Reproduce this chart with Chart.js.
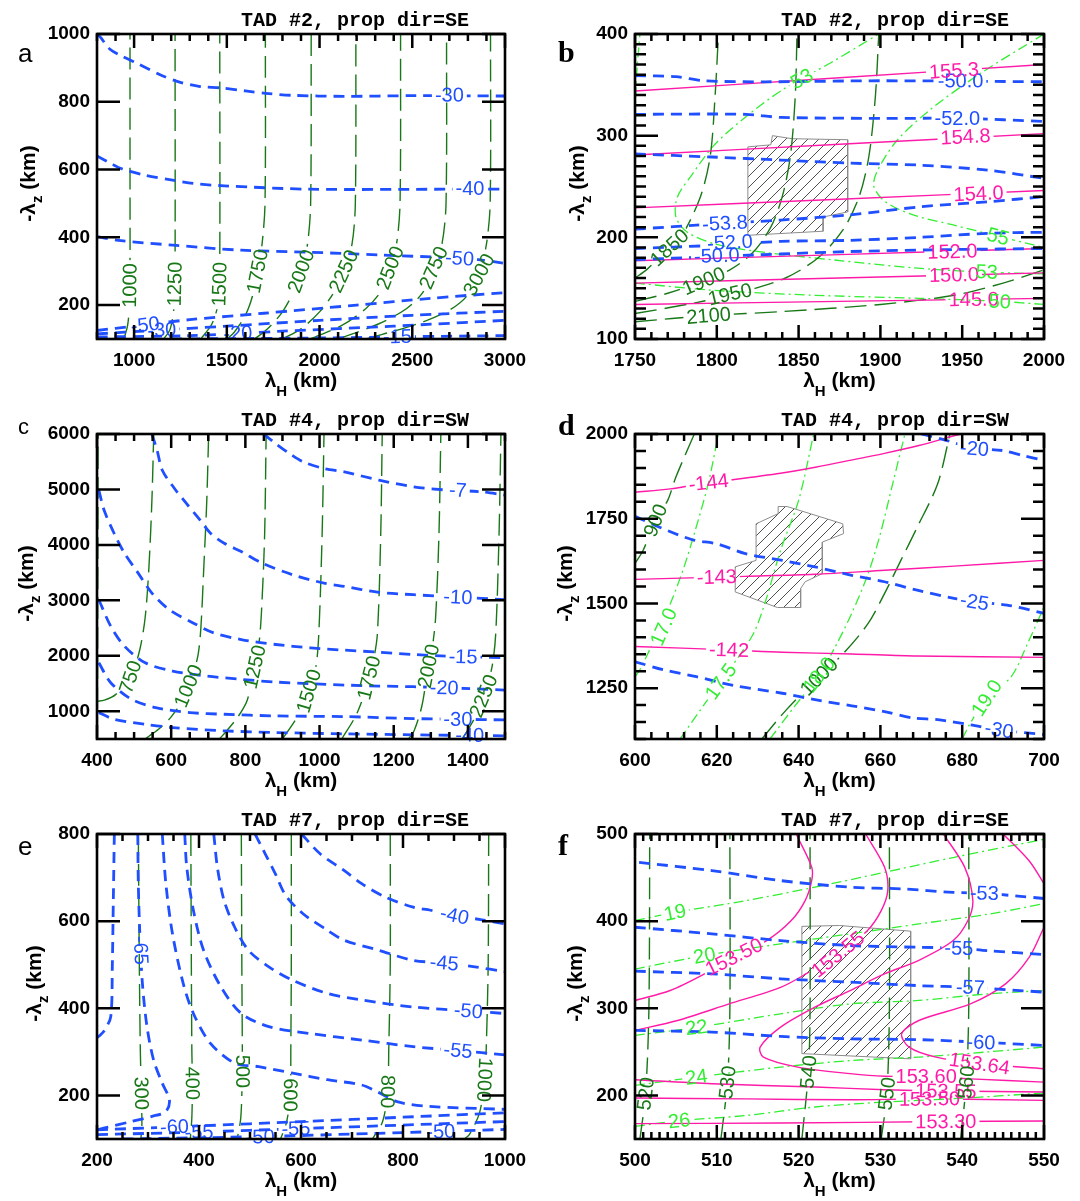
<!DOCTYPE html>
<html>
<head>
<meta charset="utf-8">
<script src="https://cdn.jsdelivr.net/npm/chart.js@4.4.0/dist/chart.umd.min.js"></script>
<style>
body { margin: 0; background: #fff; }
#wrap { position: relative; width: 1080px; height: 1201px; }
canvas { position: absolute; }
</style>
</head>
<body>
<div id="wrap">
  <canvas id="pa" width="540" height="400" style="left:0;top:0"></canvas>
  <canvas id="pb" width="540" height="400" style="left:540px;top:0"></canvas>
  <canvas id="pc" width="540" height="400" style="left:0;top:400px"></canvas>
  <canvas id="pd" width="540" height="400" style="left:540px;top:400px"></canvas>
  <canvas id="pe" width="540" height="400" style="left:0;top:800px"></canvas>
  <canvas id="pf" width="540" height="400" style="left:540px;top:800px"></canvas>
</div>
<script>
// ---- tick values ----
const aXTicks = [1000, 1500, 2000, 2500, 3000];
const aYTicks = [200, 400, 600, 800, 1000];
const bXTicks = [1750, 1800, 1850, 1900, 1950, 2000];
const bYTicks = [100, 200, 300, 400];
const cXTicks = [400, 600, 800, 1000, 1200, 1400];
const cYTicks = [1000, 2000, 3000, 4000, 5000, 6000];
const dXTicks = [600, 620, 640, 660, 680, 700];
const dYTicks = [1250, 1500, 1750, 2000];
const eXTicks = [200, 400, 600, 800, 1000];
const eYTicks = [200, 400, 600, 800];
const fXTicks = [500, 510, 520, 530, 540, 550];
const fYTicks = [200, 300, 400, 500];

// ---- panel a: TAD #2, SE ----
const aBlue = [
  {v:'-30', at:[[2700,820]], pts:[[800,1000],[819,990],[870,955],[930,936],[1022,912],[1152,877],[1245,858],[1356,845],[1467,841],[1600,832],[1727,824],[1856,819],[2134,816],[2500,818],[3000,817]]},
  {v:'-40', at:[[2811,543]], pts:[[800,640],[874,618],[930,603],[1059,583],[1208,569],[1319,559],[1486,552],[1949,542],[2690,542],[3000,542]]},
  {v:'-50', at:[[2755,338]], pts:[[800,402],[930,390],[1208,377],[1578,362],[1949,356],[2320,348],[2690,340],[2876,333],[3000,323]]},
  {v:'-50', at:[[1060,142]], pts:[[800,125],[1000,138],[1300,157],[1700,176],[2200,200],[2600,220],[3000,237]]},
  {v:'-30', at:[[1150,127]], pts:[[800,115],[1100,125],[1500,138],[2000,155],[2500,170],[3000,182]]},
  {v:'-20', at:[[1560,117]], pts:[[800,106],[1300,110],[1800,123],[2400,138],[3000,155]]},
  {v:'-15', at:[[2420,107]], pts:[[1200,100],[2000,103],[2500,107],[3000,110]]}
];
const aDk = [
  {v:'1000', at:[[977,258]], pts:[[945,100],[965,140],[975,200],[978,330],[978,600],[978,1000]]},
  {v:'1250', at:[[1219,262]], pts:[[1160,100],[1195,130],[1216,200],[1221,330],[1221,1000]]},
  {v:'1500', at:[[1460,262]], pts:[[1360,100],[1420,145],[1455,210],[1462,330],[1462,1000]]},
  {v:'1750', at:[[1665,300]], pts:[[1500,100],[1540,120],[1600,170],[1640,230],[1665,300],[1690,380],[1706,500],[1708,1000]]},
  {v:'2000', at:[[1900,300]], pts:[[1650,100],[1720,130],[1800,180],[1860,240],[1900,300],[1935,380],[1952,500],[1955,1000]]},
  {v:'2250', at:[[2130,300]], pts:[[1800,100],[1900,130],[2000,180],[2080,240],[2130,300],[2175,380],[2193,500],[2196,1000]]},
  {v:'2500', at:[[2380,310]], pts:[[1950,100],[2120,140],[2250,190],[2330,240],[2380,310],[2415,380],[2434,500],[2437,1000]]},
  {v:'2750', at:[[2615,310]], pts:[[2100,100],[2320,145],[2470,190],[2560,240],[2615,310],[2660,380],[2682,500],[2685,1000]]},
  {v:'3000', at:[[2860,290]], pts:[[2250,100],[2530,145],[2700,185],[2800,230],[2860,290],[2900,380],[2920,500],[2922,1000]]}
];

// ---- panel b: TAD #2, SE, zoom ----
const bBlue = [
  {v:'-50.0', at:[[1949,354]], pts:[[1750,359],[1775,358],[1792,354],[1830,353],[1900,354],[2000,353]]},
  {v:'-52.0', at:[[1947,317]], pts:[[1750,321],[1818,321],[1839,318],[1902,317],[1950,317],[2000,314]]},
  {v:'', pts:[[1750,282],[1797,279],[1839,276],[1881,273],[1924,271],[1966,266],[2000,258]]},
  {v:'-53.8', at:[[1805,214]], pts:[[1750,208],[1797,213],[1839,217],[1881,222],[1924,230],[1966,235],[2000,240]]},
  {v:'-52.0', at:[[1808,195]], pts:[[1750,189],[1797,192],[1839,196],[1881,197],[1924,200],[1966,204],[2000,205]]},
  {v:'-50.0', at:[[1800,182]], pts:[[1750,178],[1797,181],[1881,186],[1945,188],[2000,189]]}
];
const bMag = [
  {v:'155.3', at:[[1945,364]], pts:[[1750,344],[1875,357],[2000,370]]},
  {v:'154.8', at:[[1952,299]], pts:[[1750,281],[1875,291.5],[2000,302]]},
  {v:'154.0', at:[[1960,243]], pts:[[1750,229],[1875,237.5],[2000,246]]},
  {v:'152.0', at:[[1944,186]], pts:[[1750,177],[1875,183],[2000,189]]},
  {v:'150.0', at:[[1945,163]], pts:[[1750,155],[1875,160],[2000,165]]},
  {v:'145.0', at:[[1957,139]], pts:[[1750,134],[1875,137],[2000,140]]}
];
const bDk = [
  {v:'1850', at:[[1771,190]], pts:[[1750,160],[1757,168],[1768,185],[1778,200],[1790,240],[1796,280],[1799,340],[1801,400]]},
  {v:'1900', at:[[1792,157]], pts:[[1750,137],[1770,145],[1790,156],[1808,168],[1822,185],[1833,210],[1840,240],[1845,280],[1848,340],[1849,400]]},
  {v:'1950', at:[[1808,144]], pts:[[1750,125],[1785,135],[1815,146],[1842,160],[1862,180],[1877,207],[1887,240],[1893,280],[1897,340],[1899,400]]},
  {v:'2100', at:[[1795,123]], pts:[[1750,117],[1795,123],[1840,127],[1900,134],[1945,143],[1975,155],[2000,168]]}
];
const bLt = [
  {v:'53', at:[[1852,356],[1965,166]], pts:[[2000,164],[1960,166],[1920,170],[1870,178],[1830,185],[1800,193],[1782,205],[1775,220],[1776,240],[1785,262],[1798,290],[1815,315],[1840,345],[1870,372],[1899,400]]},
  {v:'55', at:[[1972,201]], pts:[[2000,400],[1960,360],[1930,325],[1910,295],[1898,265],[1896,250],[1903,235],[1920,222],[1945,212],[1972,201],[2000,190]]},
  {v:'50', at:[[1973,137]], pts:[[1750,155],[1797,148],[1860,143],[1924,140],[1973,137],[2000,134]]},
  {v:'', pts:[[1750,318],[1751,360],[1753,400]]}
];
const bHatch = [[1819,289],[1833,291],[1834,300],[1846,297],[1880,296],[1880,225],[1865,220],[1865,206],[1819,202],[1819,289]];

// ---- panel c: TAD #4, SW ----
const cBlue = [
  {v:'-7', at:[[1373,4988]], pts:[[849,6000],[882,5826],[919,5647],[956,5497],[1012,5377],[1067,5317],[1160,5168],[1253,5048],[1345,4988],[1438,4958],[1500,4898]]},
  {v:'-10', at:[[1373,3060]], pts:[[548,6000],[562,5707],[576,5347],[609,5018],[641,4748],[678,4449],[706,4210],[743,4030],[789,3880],[845,3671],[928,3461],[1012,3311],[1067,3252],[1160,3144],[1253,3102],[1373,3060],[1500,3012]]},
  {v:'-15', at:[[1387,1985]], pts:[[405,4988],[419,4629],[446,4210],[474,3850],[511,3491],[548,3132],[595,2832],[659,2593],[715,2413],[789,2293],[882,2204],[975,2144],[1067,2102],[1160,2066],[1253,2024],[1345,1994],[1500,1964]]},
  {v:'-20', at:[[1336,1425]], pts:[[405,3012],[437,2533],[474,2174],[530,1874],[604,1725],[697,1635],[789,1575],[882,1527],[975,1497],[1067,1473],[1160,1455],[1253,1443],[1336,1425],[1500,1383]]},
  {v:'-30', at:[[1373,856]], pts:[[405,1874],[437,1515],[493,1216],[558,1066],[650,976],[743,946],[882,916],[1067,904],[1253,868],[1373,856],[1500,844]]},
  {v:'-40', at:[[1405,570]], pts:[[405,976],[446,856],[530,766],[604,706],[743,647],[882,617],[1067,593],[1253,575],[1500,557]]}
];
const cDk = [
  {v:'', pts:[[401,500],[402,3000],[403,6000]]},
  {v:'750', at:[[490,1620]], pts:[[400,1180],[420,1200],[450,1300],[490,1600],[515,2100],[530,2700],[540,3600],[548,4800],[553,6000]]},
  {v:'1000', at:[[646,1455]], pts:[[530,500],[540,550],[570,700],[600,900],[630,1200],[655,1600],[672,2000],[680,2500],[688,3600],[696,4800],[701,6000]]},
  {v:'1250', at:[[825,1800]], pts:[[730,500],[750,650],[780,900],[805,1200],[825,1800],[838,2300],[845,3000],[852,4200],[856,6000]]},
  {v:'1500', at:[[971,1365]], pts:[[900,500],[940,900],[970,1350],[990,1800],[998,2400],[1007,4200],[1012,6000]]},
  {v:'1750', at:[[1133,1605]], pts:[[1060,500],[1100,950],[1130,1500],[1145,1900],[1156,2400],[1165,4200],[1169,6000]]},
  {v:'2000', at:[[1294,1814]], pts:[[1240,500],[1255,650],[1276,1100],[1292,1750],[1304,2150],[1313,2700],[1322,4200],[1327,6000]]},
  {v:'2250', at:[[1442,1275]], pts:[[1385,500],[1420,900],[1445,1300],[1465,1800],[1475,2400],[1484,4200],[1489,6000]]}
];

// ---- panel d: TAD #4, SW, zoom ----
const dBlue = [
  {v:'-20', at:[[683,1957]], pts:[[670,2000],[675,1985],[683,1958],[690,1951],[695,1936],[700,1922]]},
  {v:'-25', at:[[683,1505]], pts:[[600,1757],[606,1725],[614,1688],[620,1676],[627,1647],[636,1627],[644,1608],[653,1583],[661,1564],[669,1539],[678,1515],[683,1505],[691,1495],[700,1471]]},
  {v:'-30', at:[[689,1127]], pts:[[600,1328],[607,1304],[615,1284],[624,1258],[636,1235],[644,1216],[653,1198],[661,1181],[668,1162],[674,1157],[682,1142],[689,1127],[700,1113]]}
];
const dMag = [
  {v:'-144', at:[[618,1857]], pts:[[600,1828],[608.6,1838],[617.9,1857],[623.8,1865],[635.6,1884],[644.1,1902],[652.5,1922],[661,1943],[669.4,1966],[678.7,1997],[680,2000]]},
  {v:'-143', at:[[620,1578]], pts:[[600,1571],[627,1580],[644,1586],[661,1598],[678,1610],[700,1627]]},
  {v:'-142', at:[[623,1363]], pts:[[600,1373],[623,1363],[636,1356],[653,1351],[669,1345],[700,1341]]}
];
const dDk = [
  {v:'900', at:[[605,1745]], pts:[[600,1618],[602,1657],[605,1745],[608,1804],[610,1873],[614.5,2000]]},
  {v:'1000', at:[[645,1284]], pts:[[631,1100],[637,1186],[645,1284],[651,1353],[657,1441],[661,1529],[665,1627],[669,1725],[674,1853],[677,2000]]}
];
const dLt = [
  {v:'17.0', at:[[607,1431]], pts:[[600,1285],[601,1300],[605,1400],[609,1510],[612,1608],[614.5,1706],[617.9,1853],[620.4,2000]]},
  {v:'17.5', at:[[621,1270]], pts:[[611,1100],[618,1220],[624,1320],[629,1412],[632,1510],[635.6,1657],[640,1804],[643.7,2000]]},
  {v:'18.0', at:[[645,1289]], pts:[[633,1100],[639,1196],[645,1289],[649,1373],[653,1471],[657,1588],[660,1706],[663,1853],[666,2000]]},
  {v:'19.0', at:[[686,1221]], pts:[[680,1100],[682,1147],[686,1221],[692,1284],[696,1382],[700,1490]]}
];
const dHatch = [[635,1786],[637.2,1786],[650.8,1735],[651,1706],[645.8,1681],[645.8,1588],[641.6,1564],[640.5,1544],[640.5,1488],[634.8,1488],[624.5,1534],[624.5,1608],[629.6,1627],[629.6,1735],[635,1765],[635,1786]];

// ---- panel e: TAD #7, SE ----
const eBlue = [
  {v:'-40', at:[[901,613]], pts:[[601,800],[638,754],[685,716],[719,686],[766,655],[820,632],[854,625],[901,613],[955,603],[1000,594]]},
  {v:'-45', at:[[881,504]], pts:[[510,800],[530,754],[550,708],[570,659],[604,617],[652,579],[685,556],[753,533],[820,510],[881,504],[941,495],[1000,484]]},
  {v:'-50', at:[[928,394]], pts:[[429,800],[436,724],[449,648],[470,586],[497,533],[537,495],[584,464],[652,434],[719,419],[820,403],[928,394],[1000,388]]},
  {v:'-55', at:[[908,303]], pts:[[372,800],[376,724],[389,625],[409,533],[443,449],[483,388],[537,358],[618,342],[719,327],[820,312],[908,303],[1000,293]]},
  {v:'', pts:[[328,800],[335,686],[348,571],[369,457],[389,388],[422,320],[470,274],[517,266],[584,251],[652,236],[719,224],[752,207],[790,185],[850,175],[1000,168]]},
  {v:'-65', at:[[286,533]], pts:[[280,800],[281,686],[284,571],[289,457],[298,358],[311,281],[328,228],[342,190],[335,163],[308,152],[267,140],[213,125],[200,121]]},
  {v:'', pts:[[234,800],[232,648],[230,495],[227,381],[215,350],[205,337],[200,333]]},
  {v:'-60', at:[[352,128]], pts:[[200,121],[400,130],[600,140],[800,150],[1000,160]]},
  {v:'-55', at:[[400,116],[590,124]], pts:[[200,110],[400,116],[600,124],[800,132],[1000,140]]},
  {v:'-50', at:[[520,105],[874,117]], pts:[[250,100],[500,105],[750,113],[1000,122]]}
];
const eDk = [
  {v:'300', at:[[287,205]], pts:[[281,800],[283,500],[285,300],[287,205],[288,130],[286,100]]},
  {v:'400', at:[[387,228]], pts:[[384,800],[385,500],[386,300],[387,228],[386,150],[383,100]]},
  {v:'500', at:[[485,255]], pts:[[483,800],[484,500],[485,300],[485,255],[482,150],[475,100]]},
  {v:'600', at:[[579,201]], pts:[[581,800],[581,500],[580,300],[579,201],[572,140],[560,100]]},
  {v:'800', at:[[770,209]], pts:[[775,800],[775,500],[772,300],[770,209],[760,140],[740,100]]},
  {v:'1000', at:[[960,236]], pts:[[968,800],[967,500],[963,300],[960,236],[950,160],[930,110],[920,100]]}
];

// ---- panel f: TAD #7, SE, zoom ----
const fBlue = [
  {v:'-53', at:[[542.7,432]], pts:[[500.5,467.5],[509.4,458],[517.8,446.5],[526.3,439],[532.6,437],[538.9,433],[542.7,432],[546.5,429],[550,426]]},
  {v:'-55', at:[[539.6,369]], pts:[[500,393],[509.4,385.4],[517.8,377.7],[526.3,372],[534.7,370],[539.6,369],[543.2,366],[550,361.7]]},
  {v:'-57', at:[[541,324]], pts:[[500,342.6],[509.4,339.5],[517.8,333.8],[526.3,330],[534.7,326],[541,324],[550,318.5]]},
  {v:'-60', at:[[542.3,261]], pts:[[500,274.6],[509.4,272.7],[517.8,267.7],[526.3,265],[534.7,264],[542.3,261],[550,257.4]]}
];
const fMag = [
  {v:'153.50', at:[[512.1,359]], pts:[[519.7,500],[521.6,462],[521.6,446.5],[520.8,423.6],[519.1,400.7],[516.1,377.7],[512.1,359],[508.5,339.5],[504.3,320.4],[500,309]]},
  {v:'153.55', at:[[524.8,362]], pts:[[528.2,500],[530.5,462],[530.9,435],[530.1,412],[528.4,389],[524.8,362],[521,340],[517.8,324],[511.5,305],[505.2,286],[500,274.6]]},
  {v:'153.60', at:[[535.6,222]], pts:[[537.7,500],[540.3,462],[541.3,423.6],[540.7,400.7],[538.9,377.7],[534.7,355],[530.5,339.5],[526.3,320.4],[522,301.3],[517.8,278.4],[515.3,255.5],[515.7,244],[519.9,232.5],[526.3,225],[530.5,222],[535.6,222],[541,219],[550,215.3]]},
  {v:'', pts:[[545,500],[548.2,469],[550,443]]},
  {v:'153.64', at:[[542.1,236.4]], pts:[[550,393],[548.2,358.6],[545.3,328],[541,305],[534.7,286],[532.6,270.7],[533.5,255.5],[536.8,244],[542.1,236.4],[550,230.6]]},
  {v:'153.55', at:[[538,205]], pts:[[500,218],[509.4,213.4],[522,209.6],[530.5,206.6],[538,205],[550,204]]},
  {v:'153.50', at:[[536,196]], pts:[[500,197],[513.6,196],[526.3,195],[536,196],[550,194.3]]},
  {v:'153.30', at:[[538,170]], pts:[[500,167.6],[517.8,168.3],[538,170],[550,170.6]]}
];
const fDk = [
  {v:'520', at:[[501.3,202]], pts:[[500.6,150],[501.3,202],[501.7,300],[501.8,500]]},
  {v:'530', at:[[511.3,215]], pts:[[510.5,150],[511.3,215],[511.6,300],[511.6,500]]},
  {v:'540', at:[[521.2,227]], pts:[[520.4,150],[521.2,227],[521.4,300],[521.4,500]]},
  {v:'550', at:[[530.8,202]], pts:[[530.1,150],[530.8,202],[531.1,300],[531.1,500]]},
  {v:'560', at:[[540.5,215]], pts:[[539.8,150],[540.5,215],[540.8,300],[540.8,500]]}
];
const fLt = [
  {v:'19', at:[[504.9,410]], pts:[[500,400.7],[504.9,410],[513.6,423.6],[522,439],[530.5,456],[538.9,473],[550,494]]},
  {v:'20', at:[[508.5,360.5]], pts:[[500,345],[508.5,360.5],[517.8,374],[526.3,385.4],[534.7,396.8],[543.2,408],[550,420]]},
  {v:'22', at:[[507.5,278]], pts:[[500,269],[507.5,278],[517.8,293.7],[526.3,305],[534.7,309],[543.2,316.6],[550,320.4]]},
  {v:'24', at:[[507.5,221]], pts:[[500,211.5],[507.5,221],[517.8,232.5],[526.3,240],[534.7,244],[543.2,250],[550,255.5]]},
  {v:'26', at:[[505.4,171]], pts:[[500,164.5],[505.4,171],[513.6,177],[522,186.7],[530.5,192.4],[538.9,196.2],[550,202.7]]}
];
const fHatch = [[520.4,394],[525,395],[533.7,388.5],[533.7,242],[520.4,248],[520.4,394]];

// ---- styles ----
const FONT = '"Liberation Sans", Arial, sans-serif';
const TAG = 20;
const STY = {
  blue: {color: '#1f4fff', width: 2.8, dash: [11, 7]},
  mag:  {color: '#ff1aa8', width: 1.4, dash: []},
  dk:   {color: '#187818', width: 1.4, dash: [22, 8]},
  lt:   {color: '#33ee33', width: 1.3, dash: [10, 4, 2, 4]}
};

const panels = [
  {el:'pa', letter:'a', serif:false, lsize:26, ly:62, title:'TAD #2, prop dir=SE', xr:[800,3000], yr:[100,1000], xt:aXTicks, yt:aYTicks, xm:100, ym:0, left:97, right:505, ytx:27, groups:[[aBlue,'blue'],[aDk,'dk']]},
  {el:'pb', letter:'b', serif:true, lsize:30, ly:62, title:'TAD #2, prop dir=SE', xr:[1750,2000], yr:[100,400], xt:bXTicks, yt:bYTicks, xm:10, ym:10, left:95, right:504, ytx:36, groups:[[bBlue,'blue'],[bMag,'mag'],[bDk,'dk'],[bLt,'lt']], hatch:bHatch},
  {el:'pc', letter:'c', serif:false, lsize:22, ly:34, title:'TAD #4, prop dir=SW', xr:[400,1500], yr:[500,6000], xt:cXTicks, yt:cYTicks, xm:50, ym:0, left:97, right:505, ytx:25, groups:[[cBlue,'blue'],[cDk,'dk']]},
  {el:'pd', letter:'d', serif:true, lsize:30, ly:35, title:'TAD #4, prop dir=SW', xr:[600,700], yr:[1100,2000], xt:dXTicks, yt:dYTicks, xm:4, ym:50, left:95, right:504, ytx:24, groups:[[dBlue,'blue'],[dMag,'mag'],[dDk,'dk'],[dLt,'lt']], hatch:dHatch},
  {el:'pe', letter:'e', serif:false, lsize:26, ly:55, title:'TAD #7, prop dir=SE', xr:[200,1000], yr:[100,800], xt:eXTicks, yt:eYTicks, xm:50, ym:0, left:97, right:505, ytx:33, groups:[[eBlue,'blue'],[eDk,'dk']]},
  {el:'pf', letter:'f', serif:true, lsize:30, ly:55, title:'TAD #7, prop dir=SE', xr:[500,550], yr:[150,500], xt:fXTicks, yt:fYTicks, xm:1, ym:0, left:95, right:504, ytx:34, groups:[[fBlue,'blue'],[fMag,'mag'],[fDk,'dk'],[fLt,'lt']], hatch:fHatch}
];

function toSets(lines, kind) {
  const st = STY[kind];
  return lines.map(l => ({
    data: l.pts.map(p => ({x: p[0], y: p[1]})),
    showLine: true, pointRadius: 0, fill: false, tension: 0.3,
    borderColor: st.color, borderWidth: st.width, borderDash: st.dash,
    tags: (l.at || []).map(a => ({text: l.v, x: a[0], y: a[1]})),
    tagColor: st.color
  }));
}

function hatchPattern(sp) {
  const c = document.createElement('canvas');
  c.width = c.height = sp;
  const g = c.getContext('2d');
  g.strokeStyle = '#222';
  g.lineWidth = 0.8;
  g.beginPath();
  g.moveTo(0, sp); g.lineTo(sp, 0);
  g.moveTo(-2, 2); g.lineTo(2, -2);
  g.moveTo(sp - 2, sp + 2); g.lineTo(sp + 2, sp - 2);
  g.stroke();
  return g.createPattern(c, 'repeat');
}

// where a contour label sits and how it is turned
function tagGeom(chart, ds, t) {
  const xs = chart.scales.x, ys = chart.scales.y;
  const px = xs.getPixelForValue(t.x), py = ys.getPixelForValue(t.y);
  let best = Infinity, ang = 0;
  for (let i = 1; i < ds.data.length; i++) {
    const x1 = xs.getPixelForValue(ds.data[i - 1].x), y1 = ys.getPixelForValue(ds.data[i - 1].y);
    const x2 = xs.getPixelForValue(ds.data[i].x), y2 = ys.getPixelForValue(ds.data[i].y);
    const dx = x2 - x1, dy = y2 - y1, L = dx * dx + dy * dy || 1;
    let u = ((px - x1) * dx + (py - y1) * dy) / L;
    u = Math.max(0, Math.min(1, u));
    const d = Math.hypot(px - (x1 + u * dx), py - (y1 + u * dy));
    if (d < best) { best = d; ang = Math.atan2(dy, dx); }
  }
  const lim = 100 * Math.PI / 180;
  if (ang > lim) ang -= Math.PI;
  if (ang < -lim) ang += Math.PI;
  chart.ctx.font = TAG + 'px ' + FONT;
  const w = chart.ctx.measureText(t.text).width;
  return {px, py, ang, w, h: TAG};
}

const contourLabels = {
  id: 'contourLabels',
  beforeDatasetDraw(chart, args) {
    const ds = chart.data.datasets[args.index];
    if (!ds.tags || !ds.tags.length) return;
    const ctx = chart.ctx;
    ctx.save();
    ctx.beginPath();
    ctx.rect(0, 0, chart.width, chart.height);
    ds.tags.forEach(t => {
      const g = tagGeom(chart, ds, t);
      const c = Math.cos(g.ang), s = Math.sin(g.ang);
      const hw = g.w / 2 + 3, hh = g.h * 0.42;
      const pts = [[-hw, -hh], [hw, -hh], [hw, hh], [-hw, hh]].map(([a, b]) => [g.px + a * c - b * s, g.py + a * s + b * c]);
      ctx.moveTo(pts[0][0], pts[0][1]);
      for (let k = 1; k < 4; k++) ctx.lineTo(pts[k][0], pts[k][1]);
      ctx.closePath();
    });
    ctx.clip('evenodd');
  },
  afterDatasetDraw(chart, args) {
    const ds = chart.data.datasets[args.index];
    if (ds.tags && ds.tags.length) chart.ctx.restore();
  },
  afterDatasetsDraw(chart) {
    const ctx = chart.ctx;
    chart.data.datasets.forEach(ds => {
      (ds.tags || []).forEach(t => {
        const g = tagGeom(chart, ds, t);
        ctx.save();
        ctx.translate(g.px, g.py);
        ctx.rotate(g.ang);
        ctx.fillStyle = ds.tagColor;
        ctx.textAlign = 'center';
        ctx.textBaseline = 'middle';
        ctx.font = TAG + 'px ' + FONT;
        ctx.fillText(t.text, 0, 1);
        ctx.restore();
      });
    });
  }
};

// frame, inward ticks, titles
function makeFrame(p) {
  return {
    id: 'frame' + p.letter,
    afterDraw(chart) {
      const ctx = chart.ctx, a = chart.chartArea;
      const xs = chart.scales.x, ys = chart.scales.y;
      const isMaj = (arr, v) => arr.some(t => Math.abs(t - v) < 1e-6);
      ctx.save();
      ctx.strokeStyle = '#000';
      ctx.lineWidth = 2.5;
      ctx.beginPath();
      const xTick = (v, len) => {
        const X = xs.getPixelForValue(v);
        ctx.moveTo(X, a.bottom); ctx.lineTo(X, a.bottom - len);
        ctx.moveTo(X, a.top); ctx.lineTo(X, a.top + len);
      };
      const yTick = (v, len) => {
        const Y = ys.getPixelForValue(v);
        ctx.moveTo(a.left, Y); ctx.lineTo(a.left + len, Y);
        ctx.moveTo(a.right, Y); ctx.lineTo(a.right - len, Y);
      };
      p.xt.forEach(v => xTick(v, 14));
      p.yt.forEach(v => yTick(v, 23));
      if (p.xm) {
        for (let k = Math.ceil(p.xr[0] / p.xm); k * p.xm <= p.xr[1] + 1e-9; k++) {
          const v = k * p.xm;
          if (!isMaj(p.xt, v)) xTick(v, 7);
        }
      }
      if (p.ym) {
        for (let k = Math.ceil(p.yr[0] / p.ym); k * p.ym <= p.yr[1] + 1e-9; k++) {
          const v = k * p.ym;
          if (!isMaj(p.yt, v)) yTick(v, 11);
        }
      }
      ctx.stroke();
      ctx.lineWidth = 2.6;
      ctx.strokeRect(a.left, a.top, a.right - a.left, a.bottom - a.top);

      ctx.fillStyle = '#000';
      ctx.textAlign = 'left';
      ctx.textBaseline = 'alphabetic';
      // title
      ctx.font = 'bold 20px "Liberation Mono", monospace';
      ctx.fillText(p.title, 241, 26);
      // panel letter
      ctx.font = (p.serif ? 'bold ' + p.lsize + 'px "Liberation Serif", serif' : p.lsize + 'px ' + FONT);
      ctx.fillText(p.letter, 18, p.ly);

      const big = 'bold 21px ' + FONT, small = 'bold 15px ' + FONT;
      // x title
      ctx.font = big;
      const w1 = ctx.measureText('λ').width, w3 = ctx.measureText(' (km)').width;
      ctx.font = small;
      const w2 = ctx.measureText('H').width;
      let x0 = (a.left + a.right) / 2 - (w1 + w2 + w3) / 2;
      ctx.font = big; ctx.fillText('λ', x0, 387);
      ctx.font = small; ctx.fillText('H', x0 + w1, 396);
      ctx.font = big; ctx.fillText(' (km)', x0 + w1 + w2, 387);
      // y title
      ctx.save();
      ctx.translate(p.ytx, (a.top + a.bottom) / 2 - 3);
      ctx.rotate(-Math.PI / 2);
      ctx.font = big;
      const v1 = ctx.measureText('-λ').width, v3 = ctx.measureText(' (km)').width;
      ctx.font = small;
      const v2 = ctx.measureText('z').width;
      const y0 = -(v1 + v2 + v3) / 2;
      ctx.font = big; ctx.fillText('-λ', y0, 8);
      ctx.font = small; ctx.fillText('z', y0 + v1, 15);
      ctx.font = big; ctx.fillText(' (km)', y0 + v1 + v2, 8);
      ctx.restore();
      ctx.restore();
    }
  };
}

panels.forEach(p => {
  const datasets = [];
  p.groups.forEach(([lines, kind]) => datasets.push(...toSets(lines, kind)));
  if (p.hatch) {
    datasets.push({
      data: p.hatch.map(q => ({x: q[0], y: q[1]})),
      showLine: true, pointRadius: 0, tension: 0,
      borderColor: '#8c8c8c', borderWidth: 1,
      backgroundColor: hatchPattern(11), fill: 'shape', order: 1
    });
  }
  const tickFont = {family: FONT, size: 19, weight: 'bold'};
  new Chart(document.getElementById(p.el), {
    type: 'scatter',
    data: {datasets},
    options: {
      responsive: false, animation: false, devicePixelRatio: 1, events: [],
      layout: {padding: {left: 0, right: 540 - p.right, top: 34, bottom: 0}},
      plugins: {legend: {display: false}, tooltip: {enabled: false}},
      scales: {
        x: {
          type: 'linear', min: p.xr[0], max: p.xr[1],
          grid: {display: false, drawTicks: false}, border: {display: false},
          afterBuildTicks: s => { s.ticks = p.xt.map(v => ({value: v})); },
          afterFit: s => { s.height = 61; },
          ticks: {autoSkip: false, maxRotation: 0, padding: 10, color: '#000', font: tickFont, callback: v => String(v)}
        },
        y: {
          type: 'linear', min: p.yr[0], max: p.yr[1],
          grid: {display: false, drawTicks: false}, border: {display: false},
          afterBuildTicks: s => { s.ticks = p.yt.map(v => ({value: v})); },
          afterFit: s => { s.width = p.left; },
          ticks: {autoSkip: false, padding: 7, color: '#000', font: tickFont, callback: v => String(v)}
        }
      }
    },
    plugins: [contourLabels, makeFrame(p)]
  });
});
</script>
</body>
</html>
